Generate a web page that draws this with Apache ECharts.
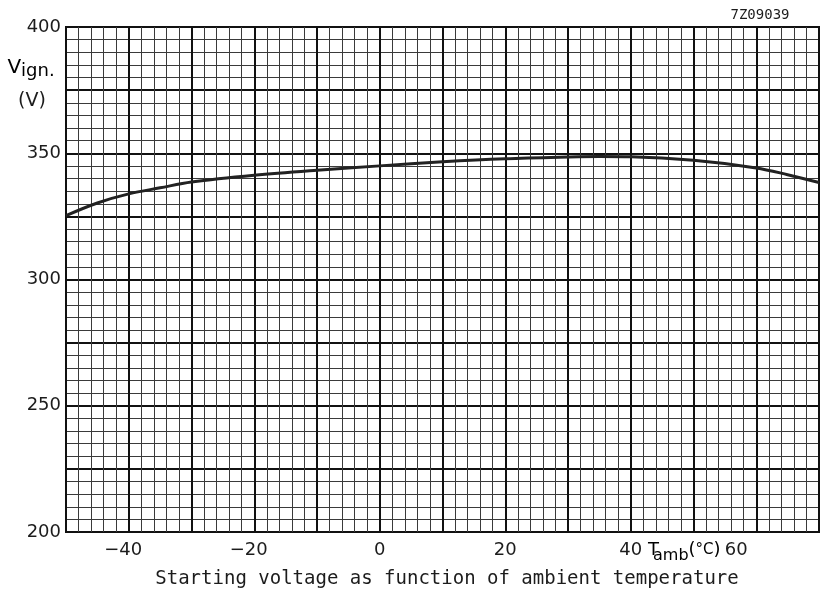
<!DOCTYPE html>
<html>
<head>
<meta charset="utf-8">
<script src="https://cdn.jsdelivr.net/npm/echarts@6/dist/echarts.min.js"></script>
<style>
  html, body { margin: 0; padding: 0; background: #ffffff; }
  #chart { width: 825px; height: 597px; }
</style>
</head>
<body>
<div id="chart"></div>
<script>
// Ambient temperature (°C) and the corresponding ignition (starting) voltage (V)
const temperatures = [-50, -45, -40, -35, -30, -20, -10, 0, 10, 20, 30, 35, 40, 50, 60, 65, 70];
const voltages = [325.3, 330.3, 333.9, 336.3, 338.6, 341.3, 343.3, 345.0, 346.6, 347.8, 348.5, 348.7, 348.6, 347.2, 344.2, 341.5, 338.4];

// Tick values that carry a printed label
const xTickLabels = [-40, -20, 0, 20, 40, 60];
const yTickLabels = [200, 250, 300, 350, 400];

const SANS = '"DejaVu Sans", "Liberation Sans", sans-serif';
const MONO = '"DejaVu Sans Mono", monospace';
const INK = '#1c1c1c';

const chart = echarts.init(document.getElementById('chart'), null, { renderer: 'canvas' });

chart.setOption({
  animation: false,
  backgroundColor: '#ffffff',
  grid: {
    left: 66, right: 6, top: 27, bottom: 65,
    show: true, borderColor: '#111', borderWidth: 2
  },
  xAxis: {
    type: 'value',
    min: -50, max: 70, interval: 10,
    axisLine: { show: false },
    axisTick: { show: false },
    minorTick: { show: false, splitNumber: 5 },
    splitLine: { show: true, lineStyle: { color: '#111', width: 2 } },
    minorSplitLine: { show: true, lineStyle: { color: '#3a3a3a', width: 1 } },
    axisLabel: {
      margin: 9,
      color: INK,
      fontFamily: SANS,
      fontSize: 18,
      formatter: function (v) {
        if (xTickLabels.indexOf(v) < 0) return '';
        if (v < 0) return '{n|\u2212' + Math.abs(v) + '}';
        if (v === 60) return '{e|' + v + '}';
        return String(v);
      },
      rich: {
        // keep the digits of negative values centred on their grid line
        n: { fontFamily: SANS, fontSize: 18, color: INK, padding: [0, 11, 0, 0] },
        // the last label sits just after the axis unit text
        e: { fontFamily: SANS, fontSize: 18, color: INK, padding: [0, 40, 0, 0] }
      }
    }
  },
  yAxis: {
    type: 'value',
    min: 200, max: 400, interval: 25,
    axisLine: { show: false },
    axisTick: { show: false },
    minorTick: { show: false, splitNumber: 5 },
    splitLine: { show: true, lineStyle: { color: '#111', width: 2 } },
    minorSplitLine: { show: true, lineStyle: { color: '#3a3a3a', width: 1 } },
    axisLabel: {
      margin: 5,
      color: INK,
      fontFamily: SANS,
      fontSize: 18,
      formatter: function (v) {
        return yTickLabels.indexOf(v) >= 0 ? String(v) : '';
      }
    }
  },
  series: [{
    type: 'line',
    data: temperatures.map(function (t, i) { return [t, voltages[i]]; }),
    smooth: 0.35,
    showSymbol: false,
    lineStyle: { color: '#222', width: 3 },
    z: 5
  }],
  graphic: [
    {
      type: 'text', x: 760, y: 15,
      style: { text: '7Z09039', font: '14px ' + MONO, fill: INK, align: 'center', verticalAlign: 'middle' }
    },
    {
      type: 'text', x: 31, y: 68,
      style: {
        text: '{v|V}{s|ign.}',
        align: 'center', verticalAlign: 'middle',
        rich: {
          v: { fontFamily: SANS, fontSize: 20, color: INK, lineHeight: 24, verticalAlign: 'middle' },
          s: { fontFamily: SANS, fontSize: 18, color: INK, lineHeight: 18, verticalAlign: 'bottom' }
        }
      }
    },
    {
      type: 'text', x: 32, y: 101,
      style: { text: '(V)', font: '19px ' + SANS, fill: INK, align: 'center', verticalAlign: 'middle' }
    },
    {
      type: 'text', x: 648, y: 550,
      style: {
        text: '{t|T}{s|amb}{p|(}{d|\u00b0C}{p|)}',
        align: 'left', verticalAlign: 'middle',
        rich: {
          t: { fontFamily: SANS, fontSize: 18, color: INK, lineHeight: 28, verticalAlign: 'middle', width: 5 },
          s: { fontFamily: SANS, fontSize: 16, color: INK, lineHeight: 24, verticalAlign: 'bottom' },
          p: { fontFamily: SANS, fontSize: 18, color: INK, lineHeight: 28, verticalAlign: 'middle' },
          d: { fontFamily: SANS, fontSize: 15, color: INK, lineHeight: 28, verticalAlign: 'middle' }
        }
      }
    },
    {
      type: 'text', x: 447, y: 579,
      style: {
        text: 'Starting voltage as function of ambient temperature',
        font: '19px ' + MONO, fill: INK, align: 'center', verticalAlign: 'middle'
      }
    }
  ]
});
</script>
</body>
</html>
